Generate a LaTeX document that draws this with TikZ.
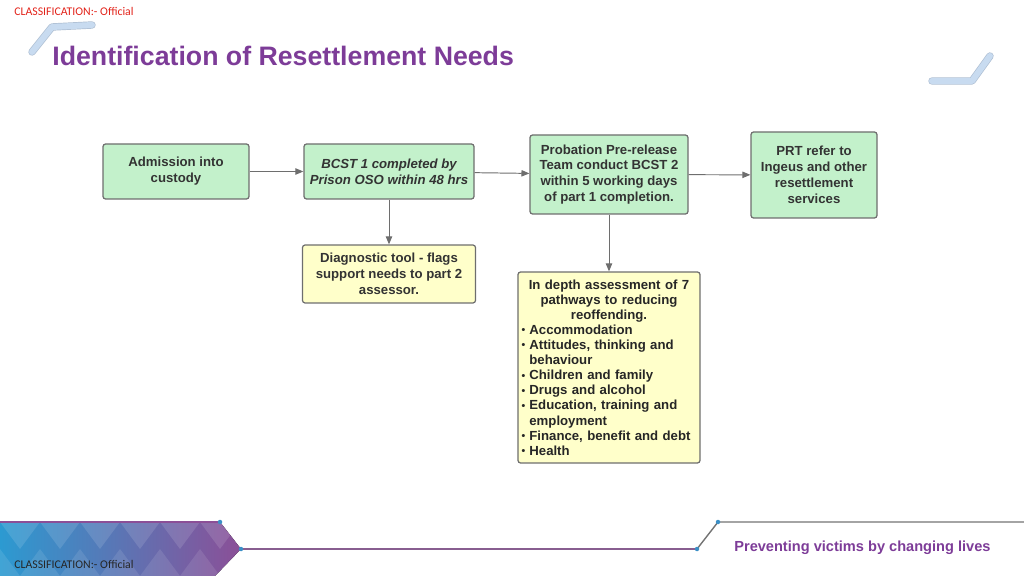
\documentclass[tikz,border=0pt]{standalone}
\usepackage{fontspec}
\setmainfont{Liberation Sans}
\newfontfamily\calibri{Carlito}
\usepackage{tikz}
\usetikzlibrary{shapes.geometric, arrows, arrows.meta}
\definecolor{boxgreen}{HTML}{C3F1CB}
\definecolor{boxyellow}{HTML}{FFFFCA}
\definecolor{boxline}{HTML}{6E6E6E}
\definecolor{boxtext}{HTML}{333333}
\definecolor{titlepurple}{HTML}{7D3C98}
\definecolor{classred}{HTML}{E2231A}
\definecolor{swoosh}{HTML}{C8DBF0}
\definecolor{swooshedge}{HTML}{AEBFD3}
\definecolor{dotblue}{HTML}{3B8FC6}
\definecolor{bannerblue}{HTML}{2C9AD1}
\definecolor{bannergray}{HTML}{A4A4BC}
\definecolor{bannerpurple}{HTML}{8B4F97}
\tikzstyle{stage} = [rectangle, rounded corners=1.5pt, draw=boxline, line width=0.7pt, fill=boxgreen, text=boxtext, align=center, font=\fontsize{7.5}{9}\selectfont\bfseries, inner sep=2pt]
\tikzstyle{note} = [stage, fill=boxyellow]
\tikzstyle{arrow} = [-{Triangle[length=4.5pt,width=3.6pt]}, draw=boxline, line width=0.55pt]
\tikzstyle{swooshline} = [line width=3.4pt, line cap=round, line join=round]
\newcommand{\pathway}[1]{\par{\raggedright\noindent\makebox[0.6em][l]{\raisebox{0.1ex}{\fontsize{6}{6}\selectfont\textbullet}}#1\par}}
\newcommand{\pathcont}{\\\hspace*{0.6em}}

\begin{document}
\begin{tikzpicture}[node distance=4.3cm] % boxes placed from the first one
\useasboundingbox (0,0) rectangle (20.48,-11.52);

% Header
\node (classtop) [anchor=base west, inner sep=0pt, text=classred, font=\calibri\fontsize{6.7}{8}\selectfont] at (0.28,-0.32) {CLASSIFICATION:- Official};
\draw [swooshline, draw=swooshedge, line width=4.2pt] (0.64,-1.04) -- (1.04,-0.54) -- (1.84,-0.50);
\draw [swooshline, draw=swoosh] (0.64,-1.04) -- (1.04,-0.54) -- (1.84,-0.50);
\draw [swooshline, draw=swooshedge, line width=4.2pt] (18.64,-1.62) -- (19.44,-1.62) -- (19.80,-1.12);
\draw [swooshline, draw=swoosh] (18.64,-1.62) -- (19.44,-1.62) -- (19.80,-1.12);
\node (title) [anchor=base west, inner sep=0pt, text=titlepurple, font=\fontsize{15.2}{18}\selectfont\bfseries] at (1.04,-1.32) {Identification of Resettlement Needs};

% Nodes
\node (adm) [stage, minimum width=2.92cm, minimum height=1.1cm] at (3.52,-3.43) {Admission into\\ custody};
\node (bcst1) [stage, right of=adm, xshift=-0.04cm, minimum width=3.4cm, minimum height=1.1cm] {\itshape BCST 1 completed by\\ \itshape Prison OSO within 48 hrs};
\node (prob) [stage, right of=bcst1, xshift=0.1cm, yshift=-0.06cm, minimum width=3.16cm, minimum height=1.58cm] {Probation Pre-release\\ Team conduct BCST 2\\ within 5 working days\\ of part 1 completion.};
\node (prt) [stage, right of=prob, xshift=-0.2cm, yshift=-0.01cm, minimum width=2.52cm, minimum height=1.72cm] {PRT refer to\\ Ingeus and other\\ resettlement\\ services};
\node (diag) [note, node distance=2.05cm, below of=bcst1, minimum width=3.46cm, minimum height=1.16cm] {Diagnostic tool - flags\\ support needs to part 2\\ assessor.};
\node (depth) [note, node distance=3.86cm, below of=prob, text width=3.5cm, align=left, minimum height=3.82cm, font=\fontsize{7.5}{8.6}\selectfont\bfseries, text=black!85] {{\centering In depth assessment of 7\\ pathways to reducing\\ reoffending.\par}
\pathway{Accommodation}
\pathway{Attitudes, thinking and\pathcont behaviour}
\pathway{Children and family}
\pathway{Drugs and alcohol}
\pathway{Education, training and\pathcont employment}
\pathway{Finance, benefit and debt}
\pathway{Health}};

% Arrows
\draw [arrow] (adm) -- (bcst1);
\draw [arrow] (bcst1) -- (prob);
\draw [arrow] (prob) -- (prt);
\draw [arrow] (bcst1) -- (diag);
\draw [arrow] (prob) -- (depth);

% Footer
\begin{scope}
\clip (0,-10.44) -- (4.40,-10.44) -- (4.82,-10.98) -- (4.30,-11.52) -- (0,-11.52) -- cycle;
\fill [left color=bannerblue, middle color=bannergray, right color=bannerpurple] (0,-10.44) rectangle (4.82,-11.52);
\foreach \i in {0,...,6} {
  \fill [white, opacity=0.12] (\i*0.8,-10.44) -- (\i*0.8+0.4,-10.98) -- (\i*0.8+0.8,-10.44) -- cycle;
  \fill [white, opacity=0.10] (\i*0.8-0.4,-11.52) -- (\i*0.8,-10.98) -- (\i*0.8+0.4,-11.52) -- cycle;
}
\end{scope}
\draw [bannerpurple, line width=0.6pt] (0,-10.44) -- (4.40,-10.44);
\draw [bannerpurple!70!gray, line width=0.8pt] (4.82,-10.98) -- (13.94,-10.98);
\draw [gray!90!black, line width=0.8pt] (13.94,-10.98) -- (14.36,-10.44) -- (20.48,-10.44);
\foreach \p in {(4.40,-10.44), (4.82,-10.98), (13.94,-10.98), (14.36,-10.44)}
  \fill [dotblue] \p circle (0.045);
\node (motto) [anchor=base west, inner sep=0pt, text=titlepurple, font=\fontsize{8.3}{10}\selectfont\bfseries] at (14.68,-11.02) {Preventing victims by changing lives};
\node (classbottom) [anchor=base west, inner sep=0pt, text=black!85, font=\calibri\fontsize{6.7}{8}\selectfont] at (0.28,-11.36) {CLASSIFICATION:- Official};

\end{tikzpicture}
\end{document}
